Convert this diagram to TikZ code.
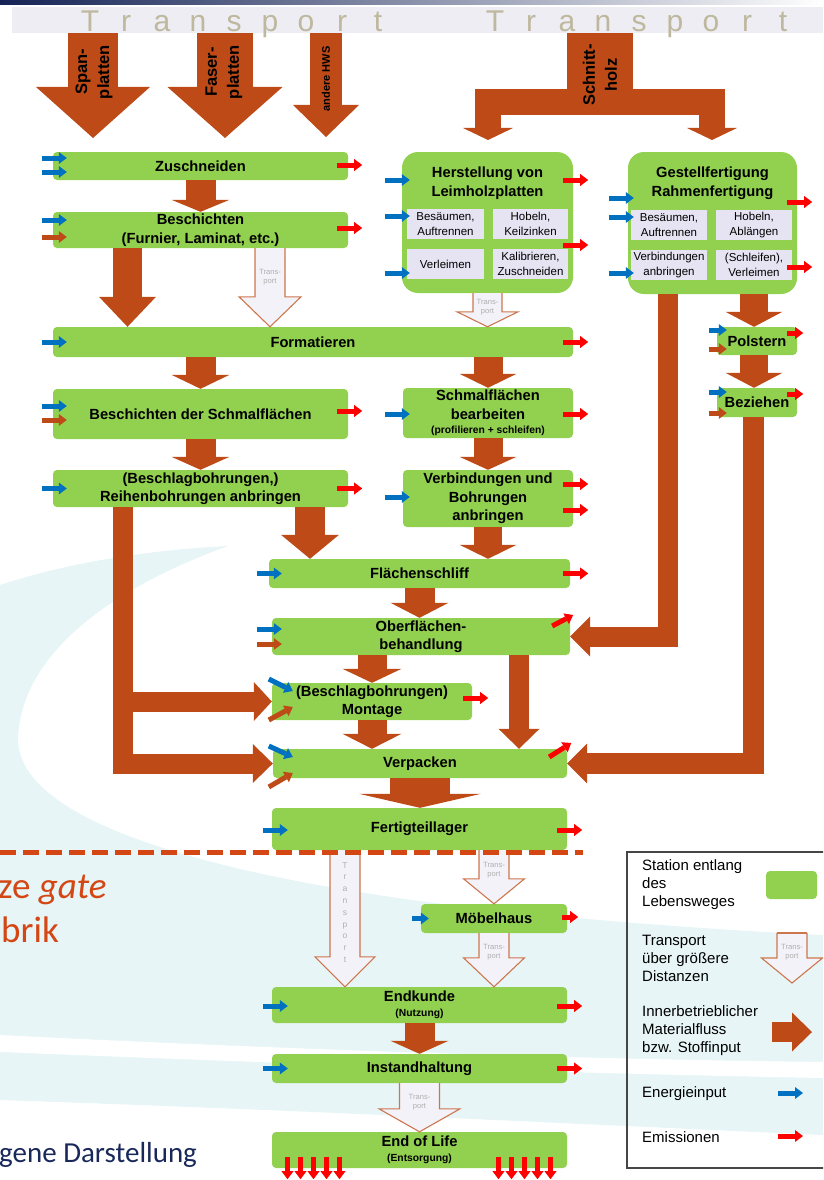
\documentclass[tikz,border=0pt]{standalone}
\usepackage{fontspec}
\setmainfont{Liberation Sans}
\newfontfamily\calibri{Carlito}
\usetikzlibrary{arrows.meta,calc}

\definecolor{stgreen}{RGB}{146,208,80}
\definecolor{holz}{RGB}{189,74,23}
\definecolor{energie}{RGB}{0,112,192}
\definecolor{emission}{RGB}{255,0,0}
\definecolor{lila}{RGB}{230,227,242}
\definecolor{transfill}{RGB}{244,242,249}
\definecolor{transline}{RGB}{205,118,78}
\definecolor{transgrau}{RGB}{175,175,175}
\definecolor{khaki}{RGB}{190,184,158}
\definecolor{bandgrau}{RGB}{238,237,243}
\definecolor{swoosh}{RGB}{231,245,246}
\definecolor{navy}{RGB}{20,35,85}
\definecolor{grenzrot}{RGB}{212,70,20}
\definecolor{textnavy}{RGB}{25,40,90}
\definecolor{rahmengrau}{RGB}{70,70,70}

\newcommand{\boxfont}{\fontsize{14.7}{18.5}\selectfont\bfseries}
\newcommand{\kleinfont}{\fontsize{10.3}{12}\selectfont\bfseries}
\newcommand{\teilfont}{\fontsize{11.5}{15}\selectfont}
\newcommand{\legfont}{\fontsize{15}{18}\selectfont}
\newcommand{\pfeilfont}{\fontsize{16.5}{22}\selectfont\bfseries}
\newcommand{\hwsfont}{\fontsize{11}{13}\selectfont\bfseries}
\newcommand{\transfont}{\fontsize{7.6}{9.5}\selectfont}
\newcommand{\bandfont}{\fontsize{30}{32}\selectfont}

\newcommand{\transpfeil}[5]{%
  \filldraw[transport] ($(#1)+(-#3/2,0)$) -- ($(#2)+(-#3/2,-#5)$) -- ($(#2)+(-#4/2,-#5)$)
    -- (#2) -- ($(#2)+(#4/2,-#5)$) -- ($(#2)+(#3/2,-#5)$) -- ($(#1)+(#3/2,0)$);}

\begin{document}
\begin{tikzpicture}[%
      x=1pt, y=-1pt,
      station/.style={fill=stgreen, rounded corners=4pt, inner sep=0pt, align=center, font=\boxfont},
      anlage/.style={fill=stgreen, rounded corners=16pt, inner sep=0pt},
      teil/.style={fill=lila, inner sep=0pt, align=center, font=\teilfont},
      flow/.style n args={3}{draw=holz, line width=#1pt, -{Triangle[width=#2pt,length=#3pt,line width=0pt]}},
      ein/.style={draw=energie, line width=5pt, -{Triangle[width=12pt,length=8pt,line width=0pt]}},
      stoff/.style={ein, draw=holz},
      aus/.style={ein, draw=emission},
      transport/.style={fill=transfill, draw=transline, line width=1.1pt},
      ttext/.style={font=\transfont, text=transgrau, align=center, inner sep=0pt},
      tletter/.style={font=\bandfont, text=khaki, anchor=base, inner sep=0pt},
      rot/.style={rotate=90, align=center, inner sep=0pt},
      legtext/.style={font=\legfont, align=left, anchor=west, inner sep=0pt},
      grenze/.style={draw=grenzrot, line width=5pt, dash pattern=on 16pt off 7pt},
      ]
      \useasboundingbox (0,0) rectangle (823,1180);
      \clip (0,0) rectangle (823,1180);

      \fill[swoosh] (0,585) .. controls (70,562) and (150,550) .. (228,546)
        .. controls (120,585) and (20,650) .. (18,740)
        .. controls (20,830) and (250,880) .. (450,905)
        .. controls (600,922) and (720,930) .. (823,935)
        -- (823,1135) .. controls (600,1125) and (300,1110) .. (0,1100) -- cycle;
      \fill[white] (0,1035) .. controls (200,1045) and (500,1058) .. (823,1062)
        -- (823,1078) .. controls (500,1072) and (200,1060) .. (0,1052) -- cycle;

      \shade[left color=navy, right color=white] (0,0) rectangle (823,5);
      \node[fill=bandgrau, minimum width=811, minimum height=26, inner sep=0pt] (tband) at (417.5,20) {};
      \foreach \ch [count=\i from 0] in {T,r,a,n,s,p,o,r,t} {
        \node[tletter] (ta\i) at (90+36*\i,32) {\ch};
        \node[tletter] (tb\i) at (495+36*\i,32) {\ch};
      }

      \coordinate (spcol) at (93,0);
      \coordinate (facol) at (225,0);
      \coordinate (hwcol) at (326,0);
      \coordinate (stcol) at (600,0);
      \coordinate (spend) at (93,138);
      \coordinate (faend) at (225,138);
      \coordinate (hwend) at (326,137);
      \coordinate (stmitte) at (600,102);
      \coordinate (stlinks) at (488,140);
      \coordinate (strechts) at (712,140);
      \draw[flow={50}{114}{51}] (tband.south -| spcol) -- (spend);
      \draw[flow={56}{115}{51}] (tband.south -| facol) -- (faend);
      \draw[flow={32}{66}{32}] (tband.south -| hwcol) -- (hwend);
      \draw[draw=holz, line width=66pt] (tband.south -| stcol) -- (stmitte);
      \draw[flow={26}{50}{12}] (stmitte) -| (stlinks);
      \draw[flow={26}{50}{12}] (stmitte) -| (strechts);
      \node[rot, font=\pfeilfont] (sptext) at (94,72) {Span-\\platten};
      \node[rot, font=\pfeilfont] (fatext) at (224,72) {Faser-\\platten};
      \node[rot, font=\hwsfont] (hwtext) at (326,79) {andere HWS};
      \node[rot, font=\pfeilfont] (sttext) at (600,75) {Schnitt-\\holz};

      \node[station, minimum width=295, minimum height=28] (zu) at (200.5,166) {Zuschneiden};
      \node[station, minimum width=295, minimum height=36] (be) at (200.5,230) {Beschichten\\(Furnier, Laminat, etc.)};
      \node[station, minimum width=520, minimum height=30] (fo) at (313,342) {Formatieren};
      \node[station, minimum width=295, minimum height=50] (bds) at (200.5,414) {Beschichten der Schmalflächen};
      \node[station, minimum width=295, minimum height=37] (rb) at (200.5,488.5) {(Beschlagbohrungen,)\\Reihenbohrungen anbringen};

      \node[anlage, minimum width=171, minimum height=141] (leim) at (487.5,222.5) {};
      \node[align=center, font=\boxfont, inner sep=0pt] (leimtitel) at (487.5,183) {Herstellung von\\Leimholzplatten};
      \node[teil, minimum width=77, minimum height=30] (l1) at (445.5,224) {Besäumen,\\Auftrennen};
      \node[teil, minimum width=75, minimum height=30] (l2) at (530.5,224) {Hobeln,\\Keilzinken};
      \node[teil, minimum width=77, minimum height=30] (l3) at (445.5,264) {Verleimen};
      \node[teil, minimum width=75, minimum height=30] (l4) at (530.5,264) {Kalibrieren,\\Zuschneiden};

      \node[anlage, minimum width=169, minimum height=142] (gest) at (712.5,223) {};
      \node[align=center, font=\boxfont, inner sep=0pt] (gesttitel) at (712.5,183) {Gestellfertigung\\Rahmenfertigung};
      \node[teil, minimum width=76, minimum height=30] (g1) at (669,225) {Besäumen,\\Auftrennen};
      \node[teil, minimum width=76, minimum height=30] (g2) at (754,225) {Hobeln,\\Ablängen};
      \node[teil, minimum width=76, minimum height=30] (g3) at (669,265) {Verbindungen\\anbringen};
      \node[teil, minimum width=76, minimum height=30] (g4) at (754,265) {(Schleifen),\\Verleimen};

      \node[station, minimum width=80, minimum height=28] (pol) at (757,341) {Polstern};
      \node[station, minimum width=80, minimum height=29] (bez) at (757,402.5) {Beziehen};

      \node[station, minimum width=170, minimum height=50] (sb) at (488,413) {Schmalflächen\\bearbeiten\\[-4pt]{\kleinfont (profilieren + schleifen)}};
      \node[station, minimum width=170, minimum height=57] (vb) at (488,498.5) {Verbindungen und\\Bohrungen\\anbringen};

      \node[station, minimum width=301, minimum height=29] (fl) at (419.5,573.5) {Flächenschliff};
      \node[station, minimum width=298, minimum height=37] (ob) at (421,636.5) {Oberflächen-\\behandlung};
      \node[station, minimum width=200, minimum height=37] (mo) at (372,701.5) {(Beschlagbohrungen)\\Montage};
      \node[station, minimum width=294, minimum height=29] (ve) at (420,763.5) {Verpacken};
      \node[station, minimum width=295, minimum height=42] (ft) at (419.5,829) {Fertigteillager};
      \node[station, minimum width=146, minimum height=29] (moe) at (494,918.5) {Möbelhaus};
      \node[station, minimum width=295, minimum height=36] (ek) at (419.5,1005) {Endkunde\\[-3pt]{\kleinfont (Nutzung)}};
      \node[station, minimum width=295, minimum height=29] (ih) at (419.5,1068.5) {Instandhaltung};
      \node[station, minimum width=295, minimum height=36] (eol) at (419.5,1150) {End of Life\\[-3pt]{\kleinfont (Entsorgung)}};

      \coordinate (colA) at (127.5,0);
      \coordinate (colB) at (270,0);
      \coordinate (colE) at (310,0);
      \coordinate (colH) at (519,0);
      \coordinate (colI) at (754,0);
      \coordinate (colJ) at (345,0);
      \coordinate (lcol) at (123,0);
      \coordinate (rcol1) at (668,0);
      \coordinate (rcol2) at (753.5,0);

      \draw[flow={30}{58}{12}] (zu.south) -- (be.north);
      \draw[flow={29}{57}{30}] (be.south -| colA) -- (fo.north -| colA);
      \transpfeil{be.south -| colB}{fo.north -| colB}{30}{62}{30}
      \node[ttext] (t1t) at (270,277) {Trans-\\port};
      \transpfeil{leim.south}{fo.north -| leim}{29}{61}{15}
      \node[ttext] (t2t) at (487.5,307) {Trans-\\port};
      \draw[flow={30}{58}{14}] (bds.north |- fo.south) -- (bds.north);
      \draw[flow={30}{58}{13}] (bds.south) -- (rb.north);
      \draw[flow={29}{57}{14}] (sb.north |- fo.south) -- (sb.north);
      \draw[flow={29}{57}{13}] (sb.south) -- (vb.north);
      \draw[flow={30}{58}{24}] (rb.south -| colE) -- (fl.north -| colE);
      \draw[flow={28}{57}{14}] (vb.south) -- (fl.north -| vb);
      \draw[flow={30}{58}{15}] (fl.south) -- (fl.south |- ob.north);
      \draw[flow={29}{59}{14}] (ob.south -| mo) -- (mo.north);
      \draw[flow={20}{41}{20}] (ob.south -| colH) -- (ve.north -| colH);
      \draw[flow={29}{59}{15}] (mo.south) -- (mo.south |- ve.north);
      \draw[flow={60}{122}{14}] (ve.south) -- (ve.south |- ft.north);
      \draw[flow={28}{57}{15}] (gest.south -| colI) -- (pol.north -| colI);
      \draw[flow={28}{57}{15}] (pol.south -| colI) -- (bez.north -| colI);
      \draw[flow={20}{39}{18}] (rb.south -| lcol) |- (mo.west);
      \draw[flow={20}{39}{20}] (rb.south -| lcol) |- (ve.west);
      \draw[flow={20}{40}{20}] (gest.south -| rcol1) |- (ob.east);
      \draw[flow={21}{40}{20}] (bez.south -| rcol2) |- (ve.east);

      \transpfeil{ft.south -| colJ}{ek.north -| colJ}{30}{60}{30}
      \foreach \ch [count=\i from 0] in {T,r,a,n,s,p,o,r,t}
        \node[ttext, anchor=base, font=\fontsize{8.5}{10}\selectfont] (tv\i) at (345,868+11.8*\i) {\ch};
      \transpfeil{ft.south -| moe}{moe.north}{30}{61}{25}
      \node[ttext] (t4t) at (494,870) {Trans-\\port};
      \transpfeil{moe.south}{ek.north -| moe}{30}{61}{29}
      \node[ttext] (t5t) at (494,952) {Trans-\\port};
      \draw[flow={30}{58}{13}] (ek.south) -- (ih.north);
      \transpfeil{ih.south}{eol.north}{40}{81}{23}
      \node[ttext] (t6t) at (419.5,1102) {Trans-\\port};

      \draw[ein] ([shift={(-11,-8)}]zu.west) -- ++(25,0);
      \draw[ein] ([shift={(-11,6)}]zu.west) -- ++(25,0);
      \draw[ein] ([shift={(-11,-10)}]be.west) -- ++(25,0);
      \draw[stoff] ([shift={(-11,7)}]be.west) -- ++(25,0);
      \draw[ein] ([shift={(-11,0)}]fo.west) -- ++(25,0);
      \draw[ein] ([shift={(-11,-8)}]bds.west) -- ++(25,0);
      \draw[stoff] ([shift={(-11,6)}]bds.west) -- ++(25,0);
      \draw[ein] ([shift={(-11,0)}]rb.west) -- ++(25,0);
      \draw[ein] ([shift={(-17,-42.5)}]leim.west) -- ++(25,0);
      \draw[ein] ([shift={(-17,-6.5)}]leim.west) -- ++(25,0);
      \draw[ein] ([shift={(-17,50.5)}]leim.west) -- ++(25,0);
      \draw[ein] ([shift={(-18,1)}]sb.west) -- ++(25,0);
      \draw[ein] ([shift={(-18,-1.5)}]vb.west) -- ++(25,0);
      \draw[ein] ([shift={(-19,-25)}]gest.west) -- ++(25,0);
      \draw[ein] ([shift={(-19,-6)}]gest.west) -- ++(25,0);
      \draw[ein] ([shift={(-19,50)}]gest.west) -- ++(25,0);
      \draw[ein] ([shift={(-8,-11)}]pol.west) -- ++(18,0);
      \draw[stoff] ([shift={(-8,8)}]pol.west) -- ++(18,0);
      \draw[ein] ([shift={(-8,-10.5)}]bez.west) -- ++(18,0);
      \draw[stoff] ([shift={(-8,10.5)}]bez.west) -- ++(18,0);
      \draw[ein] ([shift={(-12,0)}]fl.west) -- ++(25,0);
      \draw[ein] ([shift={(-15,-7.5)}]ob.west) -- ++(25,0);
      \draw[stoff] ([shift={(-15,7.5)}]ob.west) -- ++(25,0);
      \draw[ein] ([shift={(-3,-22.5)}]mo.west) -- ++(24,12);
      \draw[stoff] ([shift={(-3,18.5)}]mo.west) -- ++(24,-13);
      \draw[ein] ([shift={(-4,-17.5)}]ve.west) -- ++(24,11);
      \draw[stoff] ([shift={(-4,23.5)}]ve.west) -- ++(24,-14);
      \draw[ein] ([shift={(-9,1)}]ft.west) -- ++(25,0);
      \draw[ein] ([shift={(-9,0)}]moe.west) -- ++(17,0);
      \draw[ein] ([shift={(-9,1)}]ek.west) -- ++(25,0);
      \draw[ein] ([shift={(-9,0)}]ih.west) -- ++(25,0);

      \draw[aus] ([shift={(-11,-1)}]zu.east) -- ++(25,0);
      \draw[aus] ([shift={(-11,-2)}]be.east) -- ++(25,0);
      \draw[aus] ([shift={(-10,0)}]fo.east) -- ++(25,0);
      \draw[aus] ([shift={(-11,-3)}]bds.east) -- ++(25,0);
      \draw[aus] ([shift={(-11,0)}]rb.east) -- ++(25,0);
      \draw[aus] ([shift={(-10,-42.5)}]leim.east) -- ++(25,0);
      \draw[aus] ([shift={(-10,22.5)}]leim.east) -- ++(25,0);
      \draw[aus] ([shift={(-10,1)}]sb.east) -- ++(25,0);
      \draw[aus] ([shift={(-10,-14.5)}]vb.east) -- ++(25,0);
      \draw[aus] ([shift={(-10,11.5)}]vb.east) -- ++(25,0);
      \draw[aus] ([shift={(-10,-21)}]gest.east) -- ++(25,0);
      \draw[aus] ([shift={(-10,44)}]gest.east) -- ++(25,0);
      \draw[aus] ([shift={(-10,-8)}]pol.east) -- ++(16,0);
      \draw[aus] ([shift={(-10,-8.5)}]bez.east) -- ++(16,0);
      \draw[aus] ([shift={(-7,0)}]fl.east) -- ++(25,0);
      \draw[aus] ([shift={(-18,-10.5)}]ob.east) -- ++(21,-11);
      \draw[aus] ([shift={(-9,-3.5)}]mo.east) -- ++(25,0);
      \draw[aus] ([shift={(-18,-6.5)}]ve.east) -- ++(22,-14);
      \draw[aus] ([shift={(-10,1)}]ft.east) -- ++(25,0);
      \draw[aus] ([shift={(-5,-1.5)}]moe.east) -- ++(16,0);
      \draw[aus] ([shift={(-10,1)}]ek.east) -- ++(25,0);
      \draw[aus] ([shift={(-10,0)}]ih.east) -- ++(25,0);
      \foreach \dx in {-132,-119,-106,-93,-80,79,92,105,118,131}
        \draw[aus, line width=4.5pt] ([shift={(\dx,-11)}]eol.south) -- ++(0,22);

      \coordinate (gr1) at (0,852);
      \coordinate (gr2) at (583,852);
      \draw[grenze] (gr1) -- (gr2);

      \node[anchor=base west, inner sep=0pt, text=grenzrot, font=\calibri\fontsize{37}{40}\selectfont] (zegate) at (-2,898) {ze \textit{gate}};
      \node[anchor=base west, inner sep=0pt, text=grenzrot, font=\calibri\fontsize{37}{40}\selectfont] (brik) at (1,942) {brik};
      \node[anchor=base west, inner sep=0pt, text=textnavy, font=\calibri\fontsize{29}{32}\selectfont] (quelle) at (-1,1162) {gene Darstellung};

      \draw[draw=rahmengrau, line width=1.5pt] (627,852) rectangle (826,1168);
      \node[legtext] (lt1) at (642,885) {Station entlang\\des\\Lebensweges};
      \node[station, minimum width=51, minimum height=28] (lg1) at (791.5,885) {};
      \node[legtext] (lt2) at (642,958) {Transport\\über größere\\Distanzen};
      \coordinate (lg2a) at (792,933);
      \coordinate (lg2b) at (792,983);
      \transpfeil{lg2a}{lg2b}{30}{61}{25}
      \draw[transline, line width=1.1pt] ($(lg2a)+(-15,0)$) -- ($(lg2a)+(15,0)$);
      \node[ttext] (lg2t) at (792,952) {Trans-\\port};
      \node[legtext] (lt3) at (642,1031) {Innerbetrieblicher\\Materialfluss\\bzw. Stoffinput};
      \coordinate (lg3a) at (772,1032);
      \coordinate (lg3b) at (812,1032);
      \draw[flow={20}{39}{20}] (lg3a) -- (lg3b);
      \node[legtext] (lt4) at (642,1094) {Energieinput};
      \coordinate (lg4a) at (778,1093);
      \draw[ein] (lg4a) -- ++(25,0);
      \node[legtext] (lt5) at (642,1137) {Emissionen};
      \coordinate (lg5a) at (778,1136);
      \draw[aus] (lg5a) -- ++(25,0);
      \end{tikzpicture}
\end{document}
